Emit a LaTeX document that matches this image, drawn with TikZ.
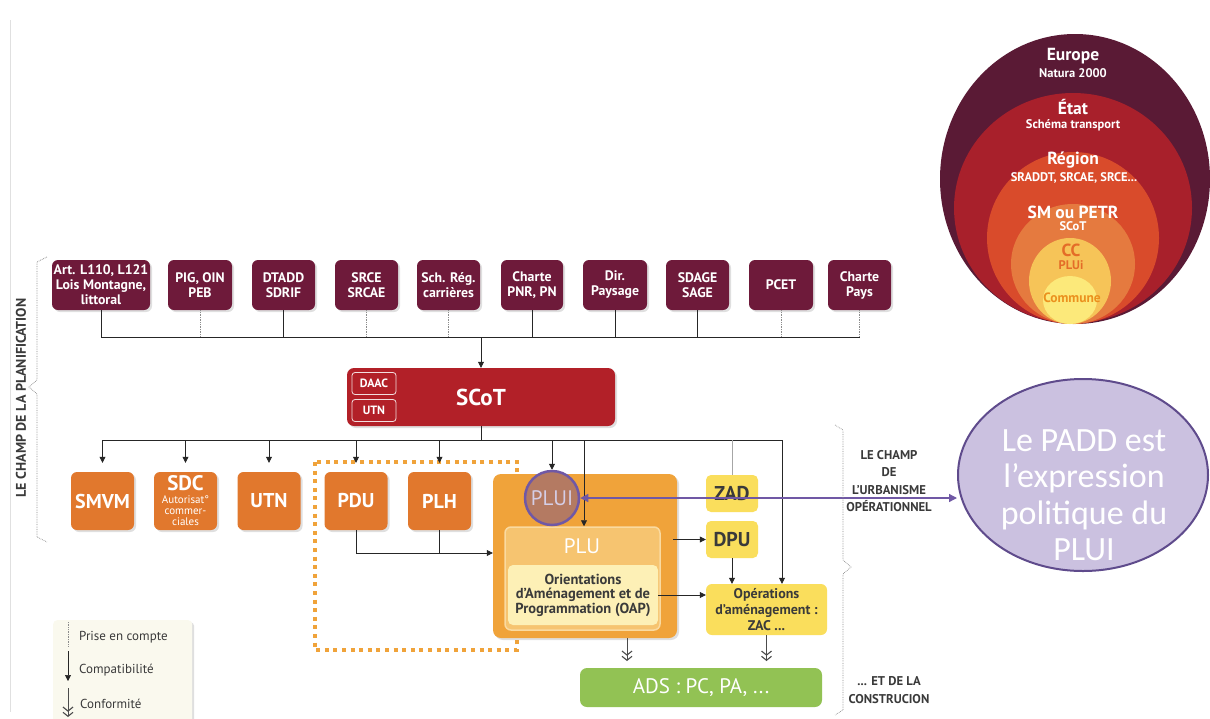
\documentclass[tikz,border=0pt]{standalone}
\usepackage{fontspec}
\setmainfont{PT Sans}
\newfontfamily\calib{Carlito}
\usetikzlibrary{arrows.meta,shapes.geometric,shadows}
\definecolor{maroonbox}{RGB}{110,26,58}
\definecolor{scotred}{RGB}{178,32,40}
\definecolor{orangebox}{RGB}{225,120,45}
\definecolor{bigorange}{RGB}{240,163,58}
\definecolor{plufill}{RGB}{246,196,112}
\definecolor{pluborder}{RGB}{250,218,160}
\definecolor{oapfill}{RGB}{253,240,182}
\definecolor{yellowbox}{RGB}{250,222,92}
\definecolor{pluifill}{RGB}{180,122,98}
\definecolor{purpleline}{RGB}{112,88,165}
\definecolor{paddfill}{RGB}{203,193,224}
\definecolor{paddborder}{RGB}{95,75,140}
\definecolor{adsgreen}{RGB}{146,194,84}
\definecolor{legfill}{RGB}{250,249,238}
\definecolor{darktext}{RGB}{58,58,58}
\definecolor{cEurope}{RGB}{90,26,53}
\definecolor{cEtat}{RGB}{168,32,43}
\definecolor{cRegion}{RGB}{217,75,43}
\definecolor{cSM}{RGB}{229,122,63}
\definecolor{cCC}{RGB}{246,196,88}
\definecolor{cCommune}{RGB}{252,233,122}
\definecolor{ccText}{RGB}{228,108,40}
\begin{document}
\begin{tikzpicture}[x=1pt,y=-1pt,
  shad/.style={drop shadow={shadow xshift=2pt,shadow yshift=-2pt,opacity=0.25}},
  topbox/.style={rectangle, rounded corners=6pt, fill=maroonbox, text=white, font=\bfseries\fontsize{13.8}{15}\selectfont, align=center, minimum height=50pt, inner sep=0pt, shad},
  obox/.style={rectangle, rounded corners=6pt, fill=orangebox, text=white, font=\bfseries\fontsize{20}{22}\selectfont, align=center, minimum height=58pt, minimum width=63pt, inner sep=0pt, shad},
  ybox/.style={rectangle, rounded corners=5pt, fill=yellowbox, text=darktext, font=\bfseries\fontsize{20}{22}\selectfont, align=center, minimum height=37pt, minimum width=52pt, inner sep=0pt},
  smallw/.style={rectangle, rounded corners=3pt, draw=white!85!scotred, line width=0.8pt, text=white, font=\bfseries\fontsize{12}{13}\selectfont, minimum width=44pt, minimum height=22pt, inner sep=0pt},
  link/.style={line width=0.7pt, draw=black!85},
  arr/.style={link, -{Triangle[length=6pt,width=6pt]}},
  dotl/.style={densely dotted, line width=0.7pt, draw=black!45},
  conf/.style={line width=0.8pt, draw=black!70, -{Straight Barb[length=4pt,width=10pt,line width=1.1pt] Straight Barb[length=4pt,width=10pt,line width=1.1pt]}},
  brace/.style={densely dotted, line width=0.7pt, draw=black!45},
  circtxt/.style={text=white, font=\bfseries\fontsize{17.5}{19}\selectfont, inner sep=0pt},
  circsub/.style={text=white, font=\bfseries\fontsize{12.5}{14}\selectfont, inner sep=0pt},
  sidetxt/.style={text=darktext, font=\bfseries\fontsize{12.7}{17.3}\selectfont, align=center, inner sep=0pt},
  legtxt/.style={text=darktext, font=\fontsize{13}{14}\selectfont, anchor=west, inner sep=0pt}
]
\useasboundingbox (0,0) rectangle (1210,718);
\clip (0,0) rectangle (1210,718);
\fill[white] (0,0) rectangle (1210,718);

% faint page edge
\draw[black!12, line width=0.6pt] (10,20) -- (10,712);

% ---------- concentric circles ----------
\fill[cEurope]  (1075,179) ellipse [x radius=135pt, y radius=145pt];
\fill[cEtat]    (1073,208) ellipse [x radius=119pt, y radius=115pt];
\fill[cRegion]  (1073,238) ellipse [x radius=86pt, y radius=86pt];
\fill[cSM]      (1073,264) ellipse [x radius=62pt, y radius=60pt];
\fill[cCC]      (1070,281) ellipse [x radius=41pt, y radius=43pt];
\fill[cCommune] (1070,300) ellipse [x radius=27pt, y radius=24pt];
\node[circtxt] (eu) at (1073,56) {Europe};
\node[circsub] (eus) at (1073,73) {Natura 2000};
\node[circtxt] (et) at (1073,107) {État};
\node[circsub] (ets) at (1073,125) {Schéma transport};
\node[circtxt] (re) at (1073,160) {Région};
\node[circsub] (res) at (1074,178) {SRADDT, SRCAE, SRCE...};
\node[circtxt] (sm) at (1073,212) {SM ou PETR};
\node[circsub] (sms) at (1073,226) {SCoT};
\node[circtxt, text=ccText] (cc) at (1071,250) {CC};
\node[circsub, text=ccText] (ccs) at (1071,265) {PLUi};
\node[circsub, text=ccText!75!yellow, font=\bfseries\fontsize{13.5}{15}\selectfont] (com) at (1072,298) {Commune};

% ---------- top row ----------
\node[topbox, minimum width=98pt] (b1) at (101,285) {Art. L110, L121\\Lois Montagne,\\littoral};
\node[topbox, minimum width=64pt] (b2) at (200,285) {PIG, OIN\\PEB};
\node[topbox, minimum width=63pt] (b3) at (283.5,285) {DTADD\\SDRIF};
\node[topbox, minimum width=63pt] (b4) at (366.5,285) {SRCE\\SRCAE};
\node[topbox, minimum width=63pt] (b5) at (448.5,285) {Sch. Rég.\\carrières};
\node[topbox, minimum width=62pt] (b6) at (532,285) {Charte\\PNR, PN};
\node[topbox, minimum width=64pt] (b7) at (615,285) {Dir.\\Paysage};
\node[topbox, minimum width=63pt] (b8) at (697.5,285) {SDAGE\\SAGE};
\node[topbox, minimum width=64pt] (b9) at (781,285) {PCET};
\node[topbox, minimum width=63pt] (b10) at (859.5,285) {Charte\\Pays};

\coordinate (hbar) at (481,337);
\draw[link] (b1.south) -- (b1.south |- hbar);
\draw[dotl] (b2.south) -- (b2.south |- hbar);
\draw[link] (b3.south) -- (b3.south |- hbar);
\draw[dotl] (b4.south) -- (b4.south |- hbar);
\draw[dotl] (b5.south) -- (b5.south |- hbar);
\draw[link] (b6.south) -- (b6.south |- hbar);
\draw[link] (b7.south) -- (b7.south |- hbar);
\draw[link] (b8.south) -- (b8.south |- hbar);
\draw[dotl] (b9.south) -- (b9.south |- hbar);
\draw[dotl] (b10.south) -- (b10.south |- hbar);
\draw[link] (b1.south |- hbar) -- (b10.south |- hbar);

% ---------- SCoT ----------
\node[rectangle, rounded corners=7pt, fill=scotred, minimum width=268pt, minimum height=58pt, shad] (scot) at (481,397) {};
\node[text=white, font=\bfseries\fontsize{23}{26}\selectfont] (scott) at (481,397) {SCoT};
\node[smallw] (daac) at (374,383.5) {DAAC};
\node[smallw] (utnS) at (374,410.5) {UTN};
\draw[arr] (hbar) -- (scot.north);

% ---------- second row ----------
\coordinate (h2) at (481,440);
\coordinate (v2) at (584,440);
\coordinate (v4) at (782,440);
\draw[link] (scot.south) -- (h2);

% dotted orange frame
\draw[bigorange, line width=3.5pt, dash pattern=on 4pt off 4.6pt] (315,462) rectangle (517,650);

\node[obox] (smvm) at (102.5,501) {SMVM};
\node[obox] (sdc) at (185.5,501) {};
\node[text=white, font=\bfseries\fontsize{21}{22}\selectfont, inner sep=0pt] (sdct) at (185.5,483) {SDC};
\node[text=white, font=\fontsize{11}{11}\selectfont, align=center, inner sep=0pt] (sdcs) at (185.5,511) {Autorisat°\\commer-\\ciales};
\node[obox] (utn) at (269,501) {UTN};
\node[obox] (pdu) at (356,501) {PDU};
\node[obox] (plh) at (439.5,501) {PLH};

% big PLUI box
\node[rectangle, rounded corners=8pt, fill=bigorange, minimum width=184pt, minimum height=164pt, shad] (big) at (585,556) {};
\node[rectangle, rounded corners=6pt, fill=plufill, draw=pluborder, line width=1.5pt, minimum width=155pt, minimum height=103pt] (plu) at (582.5,578.5) {};
\node[text=white, font=\fontsize{21}{22}\selectfont, inner sep=0pt] (plut) at (582,546) {PLU};
\node[rectangle, rounded corners=5pt, fill=oapfill, minimum width=150pt, minimum height=60pt, text=darktext, font=\bfseries\fontsize{14.5}{14.5}\selectfont, align=center, inner sep=0pt] (oap) at (583,595) {Orientations\\d’Aménagement et de\\Programmation (OAP)};
\node[circle, fill=pluifill, draw=purpleline, line width=2.5pt, minimum size=54pt, inner sep=0pt, text=paddfill!80!white, font=\fontsize{21}{22}\selectfont] (plui) at (552,498) {PLUI};

\node[ybox] (zad) at (732,493.5) {ZAD};
\node[ybox] (dpu) at (732,539.5) {DPU};
\node[rectangle, rounded corners=6pt, fill=yellowbox, text=darktext, font=\bfseries\fontsize{14}{16}\selectfont, align=center, minimum width=121pt, minimum height=51pt, inner sep=0pt] (ops) at (766.5,609.5) {Opérations\\d’aménagement :\\ZAC ...};
\node[rectangle, rounded corners=7pt, fill=adsgreen, text=white, font=\fontsize{21}{22}\selectfont, minimum width=242pt, minimum height=39pt, inner sep=0pt] (ads) at (701,687.5) {ADS : PC, PA, ...};

% links from SCoT
\draw[link] (smvm.north |- h2) -- (v4);
\draw[arr, shorten >=9pt] (smvm.north |- h2) -- (smvm.north);
\draw[arr, shorten >=9pt] (sdc.north |- h2) -- (sdc.north);
\draw[arr, shorten >=9pt] (utn.north |- h2) -- (utn.north);
\draw[arr, shorten >=9pt] (pdu.north |- h2) -- (pdu.north);
\draw[arr, shorten >=9pt] (plh.north |- h2) -- (plh.north);
\draw[arr] (plui.north |- h2) -- (plui.north);
\draw[arr] (v2) -- (v2 |- plu.north);
\draw[line width=0.7pt, black!35] (zad.north |- h2) -- (zad.north);
\draw[arr] (v4) -- (v4 |- ops.north);

% PDU / PLH to big box
\coordinate (h3) at (356,553);
\draw[link] (pdu.south) -- (h3);
\draw[link] (plh.south) -- (plh.south |- h3);
\draw[arr] (h3) -- (h3 -| big.west);

% right side
\draw[arr, shorten <=12pt] (plu.east |- dpu.west) -- (dpu.west);
\draw[arr] (dpu.south) -- (dpu.south |- ops.north);
\draw[arr] (oap.east) -- (oap.east -| ops.west);

% conformite arrows
\coordinate (c1) at (627,661);
\draw[conf] (c1 |- big.south) -- (c1);
\draw[conf] (ops.south) -- (ops.south |- c1);

% ---------- PADD ellipse ----------
\node[ellipse, fill=paddfill, draw=paddborder, line width=2pt, minimum width=250pt, minimum height=192pt, inner sep=0pt] (padd) at (1083,475) {};
\node[text=white, font=\calib\fontsize{34}{36.5}\selectfont, align=center, inner sep=0pt] (paddt) at (1084,495) {Le PADD est\\l’expression\\politique du\\PLUI};
\draw[line width=1.3pt, purpleline, {Triangle[length=8pt,width=8pt]}-{Triangle[length=8pt,width=8pt]}] (plui.east) -- (plui.east -| padd.west);

% ---------- braces and side texts ----------
\draw[brace] (47,257) -- (37,262) -- (37,380) -- (29,387) -- (37,394) -- (37,537) -- (47,542);
\node[rotate=90, text=darktext, font=\bfseries\fontsize{14}{15}\selectfont, inner sep=0pt] (plan) at (21,398) {LE CHAMP DE LA PLANIFICATION};
\draw[brace] (835,425) -- (843,430) -- (843,560) -- (851,567) -- (843,574) -- (843,710) -- (835,715);
\node[sidetxt] (urb) at (889,481) {LE CHAMP\\DE\\L’URBANISME\\OPÉRATIONNEL};
\node[sidetxt] (cons) at (889,690) {... ET DE LA\\CONSTRUCION};

% ---------- legend ----------
\node[rectangle, rounded corners=4pt, fill=legfill, minimum width=139pt, minimum height=110pt, anchor=north west, shad] (leg) at (53,620) {};
\coordinate (l1) at (68,622);
\draw[dotl] (l1) -- ++(0,24);
\node[legtxt] (lt1) at (79,637) {Prise en compte};
\coordinate (l2) at (68,651);
\draw[arr] (l2) -- ++(0,30);
\node[legtxt] (lt2) at (79,670) {Compatibilité};
\coordinate (l3) at (68,688);
\draw[conf] (l3) -- ++(0,29);
\node[legtxt] (lt3) at (80,704) {Conformité};
\end{tikzpicture}
\end{document}
